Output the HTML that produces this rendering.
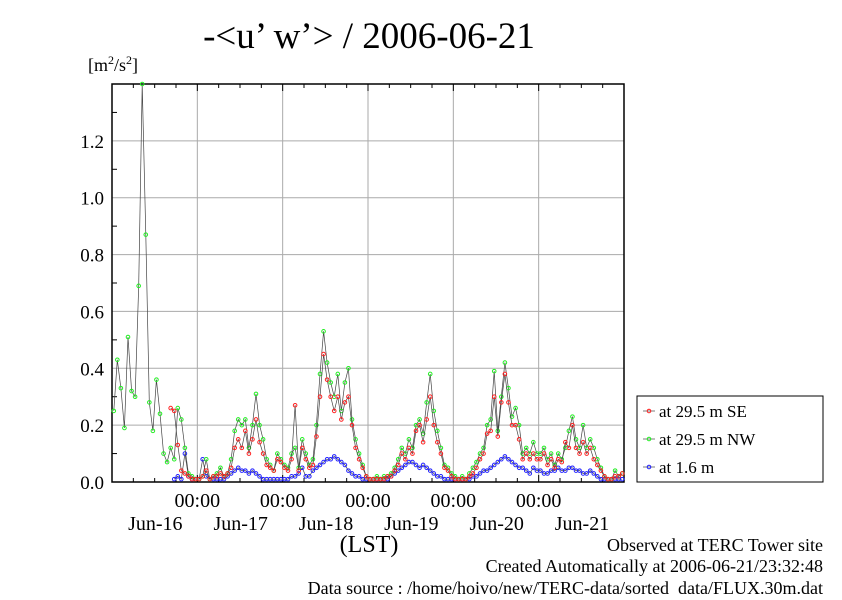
<!DOCTYPE html>
<html><head><meta charset="utf-8"><style>
body{margin:0;background:#fff}
svg text{font-family:"Liberation Serif",serif;fill:#000}
</style></head><body>
<svg id="c" width="842" height="595" viewBox="0 0 842 595" xmlns="http://www.w3.org/2000/svg">
<text x="369" y="48" font-size="37" text-anchor="middle">-&lt;u’ w’&gt; / 2006-06-21</text>
<text x="88" y="71" font-size="18">[m<tspan baseline-shift="super" font-size="12">2</tspan>/s<tspan baseline-shift="super" font-size="12">2</tspan>]</text>
<g id="grid"></g><g id="axes"></g><g id="series"></g>
<text x="369" y="552" font-size="24" text-anchor="middle">(LST)</text>
<rect x="637" y="396" width="186" height="86" fill="#fff" stroke="#000"/>
<g id="legend"></g>
<text x="823" y="551" font-size="18" text-anchor="end">Observed at TERC Tower site</text>
<text x="823" y="572" font-size="18" text-anchor="end">Created Automatically at 2006-06-21/23:32:48</text>
<text x="823" y="594" font-size="18" text-anchor="end">Data source : /home/hoivo/new/TERC-data/sorted_data/FLUX.30m.dat</text>
</svg>
<script>
const yTicks=[0,0.2,0.4,0.6,0.8,1.0,1.2];
const yTickLabels=["0.0","0.2","0.4","0.6","0.8","1.0","1.2"];
const dayLabels=["Jun-16","Jun-17","Jun-18","Jun-19","Jun-20","Jun-21"];
const seriesNames=["at 29.5 m SE","at 29.5 m NW","at 1.6 m"];
const N=null;
const green=[0.25,0.43,0.33,0.19,0.51,0.32,0.3,0.69,1.4,0.87,0.28,0.18,0.36,0.24,0.1,0.07,0.12,0.08,0.26,0.22,0.12,0.03,0.02,0.01,
0.01,0.02,0.08,0.01,0.02,0.03,0.05,0.02,0.03,0.08,0.18,0.22,0.2,0.22,0.12,0.2,0.31,0.2,0.15,0.08,0.06,0.04,0.1,0.08,
0.06,0.05,0.1,0.12,0.05,0.15,0.1,0.06,0.08,0.2,0.38,0.53,0.42,0.35,0.3,0.38,0.25,0.35,0.4,0.22,0.15,0.1,0.06,0.02,
0.01,0.01,0.02,0.01,0.02,0.02,0.03,0.05,0.08,0.12,0.1,0.15,0.12,0.2,0.22,0.17,0.28,0.38,0.25,0.18,0.12,0.06,0.05,0.03,
0.02,0.01,0.02,0.01,0.03,0.05,0.07,0.1,0.12,0.2,0.22,0.39,0.18,0.3,0.42,0.33,0.23,0.26,0.2,0.1,0.12,0.1,0.14,0.1,
0.1,0.12,0.08,0.1,0.06,0.1,0.08,0.12,0.18,0.23,0.15,0.12,0.2,0.12,0.15,0.12,0.08,0.05,0.02,0.01,0.01,0.04,0.02,0.03];
const red=[N,N,N,N,N,N,N,N,N,N,N,N,N,N,N,N,0.26,0.25,0.13,0.04,0.03,0.02,0.01,0.01,
0.01,0.02,0.04,0.01,0.02,0.02,0.03,0.02,0.03,0.05,0.12,0.15,0.12,0.18,0.1,0.15,0.22,0.14,0.1,0.06,0.05,0.04,0.08,0.07,
0.05,0.04,0.08,0.27,0.04,0.12,0.08,0.05,0.06,0.16,0.3,0.45,0.36,0.3,0.25,0.3,0.22,0.28,0.3,0.2,0.12,0.08,0.05,0.02,
0.01,0.01,0.01,0.01,0.01,0.02,0.02,0.04,0.06,0.1,0.08,0.12,0.1,0.18,0.2,0.14,0.22,0.3,0.2,0.14,0.1,0.05,0.04,0.02,
0.01,0.01,0.01,0.01,0.02,0.03,0.05,0.08,0.1,0.17,0.18,0.3,0.16,0.28,0.38,0.28,0.2,0.2,0.15,0.08,0.1,0.08,0.1,0.08,
0.08,0.1,0.06,0.08,0.05,0.08,0.07,0.14,0.12,0.2,0.12,0.1,0.14,0.1,0.12,0.08,0.06,0.04,0.02,0.01,0.01,0.02,0.02,0.03];
const blue=[N,N,N,N,N,N,N,N,N,N,N,N,N,N,N,N,N,0.01,0.02,0.01,0.1,0.02,0.01,0.01,
0.01,0.08,0.02,0.01,0.01,0.01,0.01,0.01,0.02,0.03,0.04,0.05,0.04,0.04,0.03,0.04,0.03,0.02,0.01,0.01,0.01,0.01,0.01,0.01,
0.01,0.01,0.02,0.02,0.03,0.05,0.02,0.02,0.04,0.05,0.06,0.07,0.08,0.08,0.09,0.08,0.07,0.06,0.04,0.03,0.02,0.02,0.01,0.01,
0.01,0.01,0.01,0.01,0.01,0.01,0.02,0.03,0.04,0.05,0.06,0.07,0.07,0.06,0.05,0.06,0.05,0.04,0.03,0.02,0.02,0.01,0.01,0.01,
0.01,0.01,0.01,0.01,0.01,0.02,0.02,0.03,0.04,0.04,0.05,0.06,0.07,0.08,0.09,0.08,0.07,0.06,0.05,0.05,0.04,0.03,0.05,0.04,
0.04,0.03,0.03,0.04,0.04,0.05,0.04,0.04,0.05,0.05,0.04,0.04,0.03,0.03,0.04,0.03,0.02,0.01,0.01,0.01,0.01,0.01,0.01,0.01];
const NS="http://www.w3.org/2000/svg";
const L=112,R=624,T=84,B=482,YMAX=1.4,HOURS=144;
const xs=h=>L+(R-L)*h/HOURS;
const ys=v=>B-(B-T)*v/YMAX;
function mk(tag,attrs,parent){const e=document.createElementNS(NS,tag);for(const k in attrs)e.setAttribute(k,attrs[k]);parent.appendChild(e);return e;}
const grid=document.getElementById('grid'),axes=document.getElementById('axes'),ser=document.getElementById('series'),leg=document.getElementById('legend');
yTicks.forEach((v,i)=>{
  if(v>0){const g=mk('line',{x1:L,x2:R,y1:ys(v),y2:ys(v),stroke:'#aaa','stroke-width':1},grid);
  
  }
  const hv=v+0.1; if(hv<YMAX){const m=mk('line',{x1:L,x2:L+5,y1:ys(hv),y2:ys(hv),stroke:'#000'},axes);
  
  }
  const t=mk('text',{x:104,y:ys(v)+7,'font-size':19,'text-anchor':'end'},axes);t.textContent=yTickLabels[i];
  
  
});
dayLabels.forEach((d,i)=>{
  const h=24*(i+1),x=xs(h);
  if(i<5){const g=mk('line',{x1:x,x2:x,y1:T,y2:B,stroke:'#aaa'},grid);
  
  
  const t=mk('text',{x:x,y:507,'font-size':20,'text-anchor':'middle'},axes);t.textContent='00:00';
  
  }
  const t2=mk('text',{x:x-42,y:530,'font-size':20,'text-anchor':'middle'},axes);t2.textContent=d;
  
  
});
for(let h=6;h<HOURS;h+=6){const x=xs(h);const big=h%24==0;
  const a=mk('line',{x1:x,x2:x,y1:B,y2:B-(big?7:4),stroke:'#000'},axes);
  const b=mk('line',{x1:x,x2:x,y1:T,y2:T+(big?7:4),stroke:'#000'},axes);}
const frame=mk('rect',{x:L,y:T,width:R-L,height:B-T,fill:'none',stroke:'#000','stroke-width':1.5},axes);


const defs=[[blue,'#2020ff'],[green,'#22ee22'],[red,'#ff2020']];
defs.forEach(([arr,col])=>{
  let d='',pen=false;
  arr.forEach((v,i)=>{if(v===null){pen=false;return;}d+=(pen?'L':'M')+xs(i+0.5).toFixed(1)+' '+ys(v).toFixed(1);pen=true;});
  const p=mk('path',{d:d,fill:'none',stroke:'#444','stroke-width':0.7},ser);
  
  
  arr.forEach((v,i)=>{if(v===null)return;
    const c=mk('circle',{cx:xs(i+0.5),cy:ys(v),r:1.8,fill:'none',stroke:col,'stroke-width':1},ser);
    
    });
});
const legCols=['#ff2020','#22ee22','#2020ff'];
seriesNames.forEach((n,i)=>{const y=411+i*28;
  const l=mk('line',{x1:643,x2:655,y1:y,y2:y,stroke:'#444','stroke-width':0.7},leg);
  const c=mk('circle',{cx:649,cy:y,r:1.8,fill:'none',stroke:legCols[i]},leg);
  const t=mk('text',{x:659,y:y+6,'font-size':17},leg);t.textContent=n;
  
  });
</script>
</body></html>
